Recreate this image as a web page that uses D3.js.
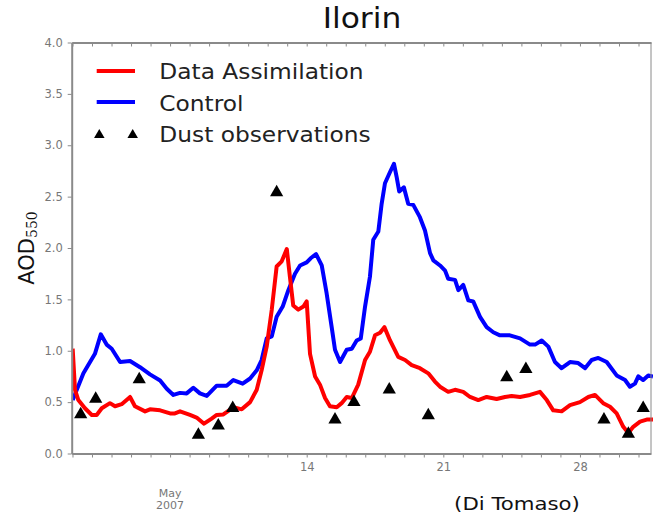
<!DOCTYPE html>
<html><head><meta charset="utf-8">
<script src="https://cdn.jsdelivr.net/npm/d3@7"></script>
<style>
html,body{margin:0;padding:0;background:#fff;}
svg{display:block;}
</style></head>
<body>
<svg id="chart" width="653" height="514"></svg>
<script>
// ---- data (day of May 2007, AOD at 550nm) ----
const daDays = [2.01,2.13,2.30,2.64,2.99,3.24,3.50,3.92,4.18,4.52,4.95,5.20,5.72,5.97,6.49,7.00,7.25,7.51,8.02,8.36,8.74,9.13,9.39,9.73,10.24,10.67,11.10,11.44,11.69,11.95,12.21,12.46,12.72,12.98,13.14,13.31,13.57,13.83,14.00,14.17,14.43,14.68,14.94,15.19,15.54,15.79,16.05,16.31,16.64,16.99,17.24,17.50,17.76,17.98,18.27,18.69,19.04,19.38,19.80,20.23,20.57,20.83,21.25,21.60,22.02,22.37,22.79,23.22,23.73,24.16,24.50,24.93,25.44,25.95,26.30,26.63,27.06,27.49,28.00,28.43,28.77,29.19,29.54,29.88,30.22,30.48,30.73,31.08,31.42,31.74];
const daValues = [1.02,0.62,0.52,0.44,0.375,0.375,0.44,0.49,0.46,0.48,0.55,0.46,0.41,0.43,0.42,0.39,0.39,0.41,0.375,0.35,0.29,0.34,0.375,0.38,0.45,0.43,0.50,0.62,0.81,1.04,1.40,1.82,1.87,1.99,1.72,1.44,1.40,1.43,1.48,0.97,0.75,0.67,0.54,0.46,0.45,0.49,0.55,0.54,0.67,0.91,0.99,1.15,1.175,1.23,1.10,0.94,0.91,0.86,0.83,0.78,0.70,0.65,0.60,0.62,0.60,0.55,0.52,0.55,0.53,0.55,0.56,0.55,0.57,0.60,0.52,0.42,0.41,0.47,0.50,0.55,0.57,0.49,0.455,0.39,0.26,0.20,0.26,0.31,0.33,0.33];
const ctlDays = [2.01,2.56,2.90,3.15,3.45,3.75,4.01,4.44,4.95,5.46,5.97,6.49,6.83,7.17,7.51,7.85,8.19,8.53,8.88,9.39,9.90,10.24,10.72,11.10,11.44,11.69,11.95,12.21,12.46,12.77,13.06,13.40,13.66,14.00,14.20,14.48,14.77,15.02,15.28,15.45,15.71,16.05,16.31,16.56,16.77,16.99,17.24,17.41,17.67,17.84,18.01,18.27,18.47,18.61,18.74,18.98,19.20,19.46,19.80,20.06,20.32,20.49,20.83,21.09,21.25,21.60,21.77,22.02,22.28,22.53,22.88,23.22,23.56,23.90,24.41,24.93,25.44,25.70,26.04,26.38,26.72,27.06,27.49,27.91,28.26,28.60,28.94,29.37,29.88,30.31,30.56,30.82,30.99,31.24,31.50,31.74];
const ctlValues = [0.52,0.78,0.89,0.97,1.16,1.06,1.02,0.89,0.90,0.84,0.77,0.71,0.63,0.57,0.59,0.585,0.64,0.585,0.56,0.66,0.66,0.715,0.68,0.73,0.81,0.91,1.12,1.14,1.33,1.43,1.59,1.75,1.83,1.86,1.90,1.94,1.83,1.56,1.23,1.01,0.89,1.01,1.02,1.10,1.12,1.43,1.72,2.08,2.16,2.43,2.63,2.74,2.82,2.69,2.55,2.59,2.43,2.42,2.30,2.17,1.95,1.88,1.83,1.78,1.70,1.69,1.59,1.64,1.49,1.48,1.33,1.23,1.18,1.15,1.15,1.12,1.06,1.06,1.10,1.04,0.89,0.83,0.89,0.88,0.83,0.91,0.93,0.89,0.76,0.715,0.65,0.68,0.75,0.715,0.76,0.75];
const obsDays = [2.42,3.19,5.42,8.45,9.47,10.21,12.46,15.45,16.42,18.23,20.23,24.25,25.23,29.23,30.48,31.24];
const obsValues = [0.39,0.54,0.73,0.19,0.28,0.45,2.55,0.34,0.51,0.63,0.38,0.75,0.83,0.34,0.20,0.45];
const yTicks = [0,0.5,1,1.5,2,2.5,3,3.5,4];
const xLabelDays = [14,21,28];
const seriesNames = ["Data Assimilation","Control","Dust observations"];
const seriesColors = ["#ff0000","#0000ff","#000000"];

const toDate = d => new Date(Date.UTC(2007,4,1) + (d-1)*864e5);

const svg = d3.select("#chart");
const L = 71.7, R = 651, T = 42.5, B = 453.5;
const x = d3.scaleUtc().domain([toDate(1.96), toDate(31.64)]).range([L, R]);
const y = d3.scaleLinear().domain([0,4]).range([B, T]);
const axisColor = "#8a8a8a", tickText = "#777";

// plot clip
svg.append("defs").append("clipPath").attr("id","clip")
  .append("rect").attr("x",L).attr("y",T).attr("width",R-L+2).attr("height",B-T);

const line = d3.line().x(d=>x(toDate(d[0]))).y(d=>y(d[1]));
const g = svg.append("g").attr("clip-path","url(#clip)");
g.append("path").datum(ctlDays.map((d,i)=>[d,ctlValues[i]]))
  .attr("d",line).attr("fill","none").attr("stroke",seriesColors[1]).attr("stroke-width",4).attr("stroke-linejoin","round");
g.append("path").datum(daDays.map((d,i)=>[d,daValues[i]]))
  .attr("d",line).attr("fill","none").attr("stroke",seriesColors[0]).attr("stroke-width",4).attr("stroke-linejoin","round");

const tri = d3.symbol().type(d3.symbolTriangle).size(76);
svg.append("g").selectAll("path").data(obsDays.map((d,i)=>[d,obsValues[i]])).join("path")
  .attr("transform",d=>`translate(${x(toDate(d[0]))},${y(d[1])+1})`)
  .attr("d",tri).attr("fill","#000");

// axes
const dayTicks = d3.range(2,32).map(toDate);
const xb = svg.append("g").attr("transform",`translate(0,${B})`)
  .call(d3.axisBottom(x).tickValues(dayTicks).tickSizeInner(4).tickSizeOuter(0).tickPadding(5)
    .tickFormat(d=>xLabelDays.includes(d.getUTCDate())?String(d.getUTCDate()):""));
const xt = svg.append("g").attr("transform",`translate(0,${T})`)
  .call(d3.axisTop(x).tickValues(dayTicks).tickSizeInner(-4).tickSizeOuter(0).tickFormat(""));
const yl = svg.append("g").attr("transform",`translate(${L},0)`)
  .call(d3.axisLeft(y).tickValues(yTicks).tickSizeInner(4).tickSizeOuter(0).tickPadding(5).tickFormat(d3.format(".1f")));
[xb,xt,yl].forEach(a=>{
  a.select(".domain").attr("stroke",axisColor).attr("stroke-width",2);
  a.selectAll(".tick line").attr("stroke",axisColor).attr("stroke-width",1);
  a.selectAll(".tick text").attr("fill",tickText).attr("font-family","DejaVu Sans").attr("font-size",11.5);
});
svg.append("line").attr("x1",R).attr("x2",R).attr("y1",T).attr("y2",B).attr("stroke",axisColor).attr("stroke-width",1);

// month label
const mx = x(toDate(7));
svg.append("text").attr("x",mx).attr("y",497).attr("text-anchor","middle").attr("fill",tickText)
  .attr("font-family","DejaVu Sans").attr("font-size",11).text("May");
svg.append("text").attr("x",mx).attr("y",509).attr("text-anchor","middle").attr("fill",tickText)
  .attr("font-family","DejaVu Sans").attr("font-size",11).text("2007");

// title
svg.append("text").attr("transform","translate(362,28) scale(1.08,1)").attr("text-anchor","middle").attr("fill","#111")
  .attr("font-family","DejaVu Sans").attr("font-size",29).text("Ilorin");

// y label
const yLab = svg.append("text").attr("transform","translate(34,248) rotate(-90)").attr("text-anchor","middle")
  .attr("fill","#111").attr("font-family","DejaVu Sans").attr("font-size",21);
yLab.append("tspan").text("AOD");
yLab.append("tspan").attr("font-family","DejaVu Serif").attr("font-size",14).attr("dy",3).text("550");

// credit
svg.append("text").attr("transform","translate(517,510) scale(1.15,1)").attr("text-anchor","middle").attr("fill","#111")
  .attr("font-family","DejaVu Sans").attr("font-size",18.5).text("(Di Tomaso)");

// legend
const leg = svg.append("g");
const rows = [79.3,111,141.7];
leg.append("line").attr("x1",96.7).attr("x2",135).attr("y1",71).attr("y2",71).attr("stroke",seriesColors[0]).attr("stroke-width",4);
leg.append("line").attr("x1",96.7).attr("x2",135).attr("y1",102).attr("y2",102).attr("stroke",seriesColors[1]).attr("stroke-width",4);
const ltri = d3.symbol().type(d3.symbolTriangle).size(48);
[99.3,132.7].forEach(px=>leg.append("path").attr("transform",`translate(${px},135)`).attr("d",ltri).attr("fill","#000"));
seriesNames.forEach((n,i)=>leg.append("text").attr("transform",`translate(159.3,${rows[i]}) scale(1.11,1)`).attr("fill","#222")
  .attr("font-family","DejaVu Sans").attr("font-size",21).text(n));
</script>
</body></html>
